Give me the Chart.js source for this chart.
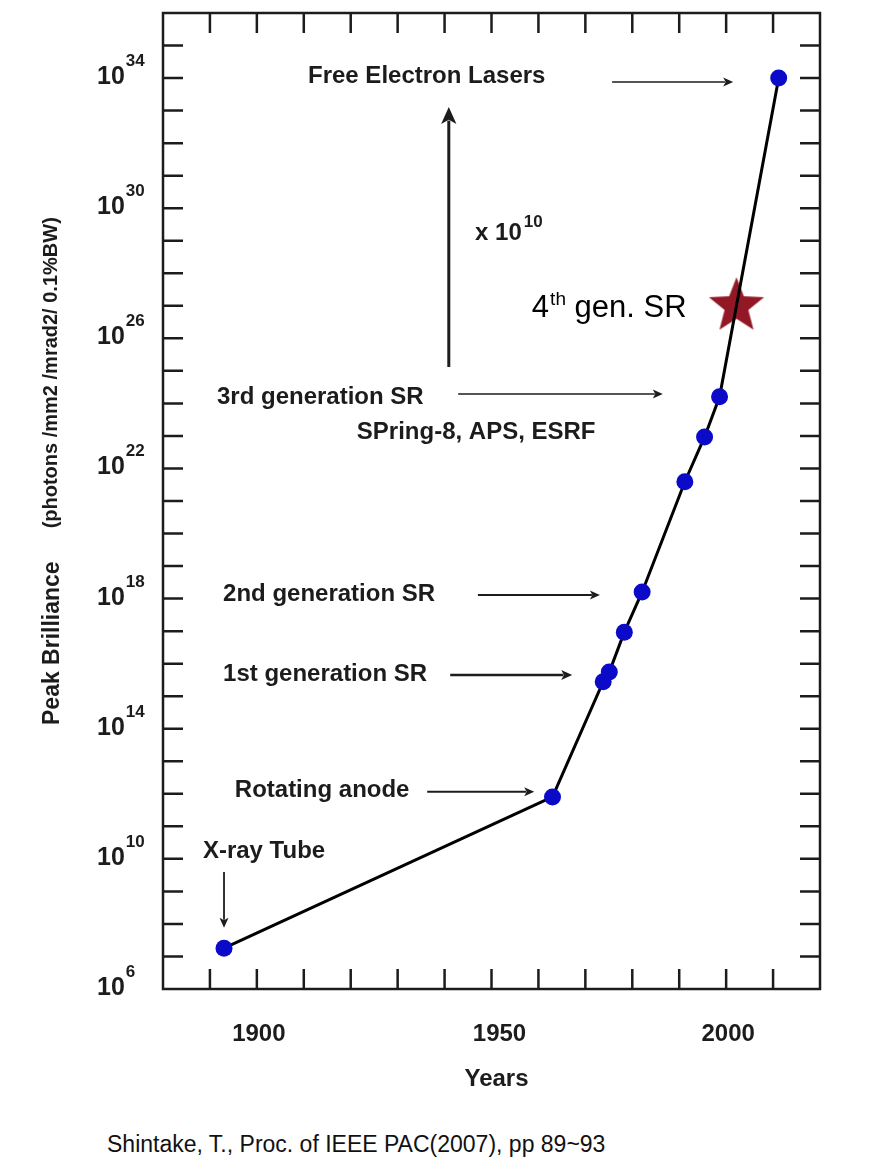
<!DOCTYPE html>
<html>
<head>
<meta charset="utf-8">
<script src="https://cdn.jsdelivr.net/npm/chart.js@4.4.1/dist/chart.umd.min.js"></script>
<style>
  html, body { margin: 0; padding: 0; background: #fff; }
  #wrap { position: relative; width: 881px; height: 1171px; }
  #cite { position: absolute; left: 107px; top: 1131px; font: 23px "Liberation Sans", Arial, sans-serif; color: #111; white-space: nowrap; }
</style>
</head>
<body>
<div id="wrap">
  <canvas id="chart" width="881" height="1110"></canvas>
  <div id="cite">Shintake, T., Proc. of IEEE PAC(2007), pp 89~93</div>
</div>
<script>
// light sources, year vs peak brilliance
const years = [1893, 1963, 1973.8, 1975.1, 1978.3, 1982.1, 1991.2, 1995.4, 1998.6, 2011.2];
const brilliance = [1.8e7, 8e11, 2.8e15, 5.5e15, 9.3e16, 1.6e18, 3.9e21, 9.3e22, 1.6e24, 1e34];
const starYears = [2002.2];
const starBrilliance = [1.2e27];

const xLabelYears = [1900, 1950, 2000];
const yLabelPowers = [6, 10, 14, 18, 22, 26, 30, 34];

// labels and arrows, anchored in data space (year, power of ten)
const notes = [
  { text: 'Free Electron Lasers', year: 1910.9, power: 34.04 },
  { text: '3rd generation SR', year: 1891.5, power: 24.2 },
  { text: 'SPring-8, APS, ESRF', year: 1921.3, power: 23.12 },
  { text: '2nd generation SR', year: 1892.8, power: 18.14 },
  { text: '1st generation SR', year: 1892.8, power: 15.68 },
  { text: 'Rotating anode', year: 1895.3, power: 12.09 },
  { text: 'X-ray Tube', year: 1888.5, power: 10.24 }
];
const arrows = [
  { from: [1975.7, 33.88], to: [2001.5, 33.88], w: 1.6, head: 10 },
  { from: [1940.9, 25.12], to: [1940.9, 33.11], w: 3, head: 17 },
  { from: [1942.9, 24.29], to: [1986.5, 24.29], w: 1.5, head: 10 },
  { from: [1947.1, 18.11], to: [1973.1, 18.11], w: 2, head: 10 },
  { from: [1941.2, 15.65], to: [1967.2, 15.65], w: 2.4, head: 11 },
  { from: [1936.3, 12.06], to: [1959.1, 12.06], w: 2, head: 10 },
  { from: [1893.0, 9.6], to: [1893.0, 7.88], w: 1.8, head: 10 }
];

const INK = '#1c1c1c';
const FONT = '"Liberation Sans", Arial, sans-serif';
const BOLD = 'bold 24px ' + FONT;

// five pointed star for the 4th generation point
function makeStar() {
  const c = document.createElement('canvas');
  c.width = 64; c.height = 64;
  const g = c.getContext('2d');
  const R = 29, r = 12.5;
  g.beginPath();
  for (let i = 0; i < 10; i++) {
    const a = -Math.PI / 2 + i * Math.PI / 5;
    const rad = i % 2 ? r : R;
    g.lineTo(32 + rad * Math.cos(a), 35 + rad * Math.sin(a));
  }
  g.closePath();
  g.fillStyle = '#931826';
  g.fill();
  return c;
}

function arrow(ctx, x1, y1, x2, y2, w, head) {
  const ang = Math.atan2(y2 - y1, x2 - x1);
  const hw = head * 0.45;
  ctx.strokeStyle = INK;
  ctx.fillStyle = INK;
  ctx.lineWidth = w;
  ctx.beginPath();
  ctx.moveTo(x1, y1);
  ctx.lineTo(x2 - Math.cos(ang) * head * 0.8, y2 - Math.sin(ang) * head * 0.8);
  ctx.stroke();
  ctx.beginPath();
  ctx.moveTo(x2, y2);
  ctx.lineTo(x2 - Math.cos(ang) * head - Math.sin(ang) * hw, y2 - Math.sin(ang) * head + Math.cos(ang) * hw);
  ctx.lineTo(x2 - Math.cos(ang) * head * 0.75, y2 - Math.sin(ang) * head * 0.75);
  ctx.lineTo(x2 - Math.cos(ang) * head + Math.sin(ang) * hw, y2 - Math.sin(ang) * head - Math.cos(ang) * hw);
  ctx.closePath();
  ctx.fill();
}

const decorations = {
  id: 'decorations',
  beforeDatasetsDraw(chart) {
    const { ctx, chartArea: a, scales: { x, y } } = chart;
    ctx.save();
    ctx.strokeStyle = INK;
    ctx.lineWidth = 2.5;
    ctx.strokeRect(a.left, a.top, a.right - a.left, a.bottom - a.top);

    // inward tick marks on all four sides
    const len = 20;
    ctx.beginPath();
    x.ticks.forEach(t => {
      if (t.value <= x.min || t.value >= x.max) return;
      const px = x.getPixelForValue(t.value);
      ctx.moveTo(px, a.bottom); ctx.lineTo(px, a.bottom - len);
      ctx.moveTo(px, a.top); ctx.lineTo(px, a.top + len);
    });
    for (let p = 7; p <= 35; p++) {
      const py = y.getPixelForValue(Math.pow(10, p));
      ctx.moveTo(a.left, py); ctx.lineTo(a.left + len, py);
      ctx.moveTo(a.right, py); ctx.lineTo(a.right - len, py);
    }
    ctx.stroke();

    // x tick labels and title
    ctx.fillStyle = INK;
    ctx.font = BOLD;
    ctx.textAlign = 'center';
    ctx.textBaseline = 'alphabetic';
    xLabelYears.forEach(v => ctx.fillText(String(v), x.getPixelForValue(v) + (v === 1950 ? 8 : 2), a.bottom + 52));
    ctx.fillText('Years', (a.left + a.right) / 2 + 5, a.bottom + 97);

    // y tick labels with superscript powers, left aligned
    ctx.textAlign = 'left';
    yLabelPowers.forEach(p => {
      const py = y.getPixelForValue(Math.pow(10, p));
      const left = a.left - 66;
      ctx.font = 'bold 25px ' + FONT;
      ctx.fillText('10', left, py + 6);
      const bw = ctx.measureText('10').width;
      ctx.font = 'bold 17px ' + FONT;
      ctx.fillText(String(p), left + bw + 1, py - 12);
    });

    // y axis title, two sizes
    ctx.translate(59, 725);
    ctx.rotate(-Math.PI / 2);
    ctx.textAlign = 'left';
    ctx.font = 'bold 23px ' + FONT;
    ctx.fillText('Peak Brilliance', 0, 0);
    const w1 = ctx.measureText('Peak Brilliance').width;
    ctx.font = 'bold 20px ' + FONT;
    ctx.fillText('(photons /mm2 /mrad2/ 0.1%BW)', w1 + 33, -2);
    ctx.restore();
  },
  afterDatasetsDraw(chart) {
    const { ctx, scales: { x, y } } = chart;
    const P = p => y.getPixelForValue(Math.pow(10, p));
    ctx.save();
    ctx.fillStyle = INK;
    ctx.font = BOLD;
    ctx.textAlign = 'left';
    ctx.textBaseline = 'middle';
    notes.forEach(n => ctx.fillText(n.text, x.getPixelForValue(n.year), P(n.power)));

    arrows.forEach(r => arrow(ctx, x.getPixelForValue(r.from[0]), P(r.from[1]),
      x.getPixelForValue(r.to[0]), P(r.to[1]), r.w, r.head));

    // "x 10^10"
    let px = x.getPixelForValue(1946.5), py = P(29.02);
    ctx.textBaseline = 'alphabetic';
    ctx.font = 'bold 24px ' + FONT;
    ctx.fillText('x 10', px, py);
    px += ctx.measureText('x 10').width + 2;
    ctx.font = 'bold 17px ' + FONT;
    ctx.fillText('10', px, py - 13);

    // "4th gen. SR"
    px = x.getPixelForValue(1958.6); py = P(26.66);
    ctx.fillStyle = '#000';
    ctx.font = '31px ' + FONT;
    ctx.fillText('4', px, py);
    px += ctx.measureText('4').width + 1;
    ctx.font = '19px ' + FONT;
    ctx.fillText('th', px, py - 12);
    px += ctx.measureText('th').width;
    ctx.font = '31px ' + FONT;
    ctx.fillText(' gen. SR', px, py);
    ctx.restore();
  }
};

new Chart(document.getElementById('chart'), {
  type: 'scatter',
  data: {
    datasets: [
      {
        data: years.map((yr, i) => ({ x: yr, y: brilliance[i] })),
        showLine: true,
        borderColor: '#000',
        borderWidth: 3,
        pointRadius: 8.5,
        pointBackgroundColor: '#0a0ac8',
        pointBorderWidth: 0
      },
      {
        data: starYears.map((yr, i) => ({ x: yr, y: starBrilliance[i] })),
        pointStyle: makeStar(),
        pointRadius: 30
      }
    ]
  },
  options: {
    responsive: false,
    animation: false,
    layout: { autoPadding: false, padding: { left: 155, right: 61, top: 13, bottom: 113 } },
    plugins: { legend: { display: false }, tooltip: { enabled: false } },
    scales: {
      x: {
        type: 'linear',
        min: 1880,
        max: 2020,
        grid: { display: false },
        border: { display: false },
        ticks: { display: false, stepSize: 10 }
      },
      y: {
        type: 'logarithmic',
        min: 1e6,
        max: 1e36,
        grid: { display: false },
        border: { display: false },
        ticks: { display: false }
      }
    }
  },
  plugins: [decorations]
});
</script>
</body>
</html>
